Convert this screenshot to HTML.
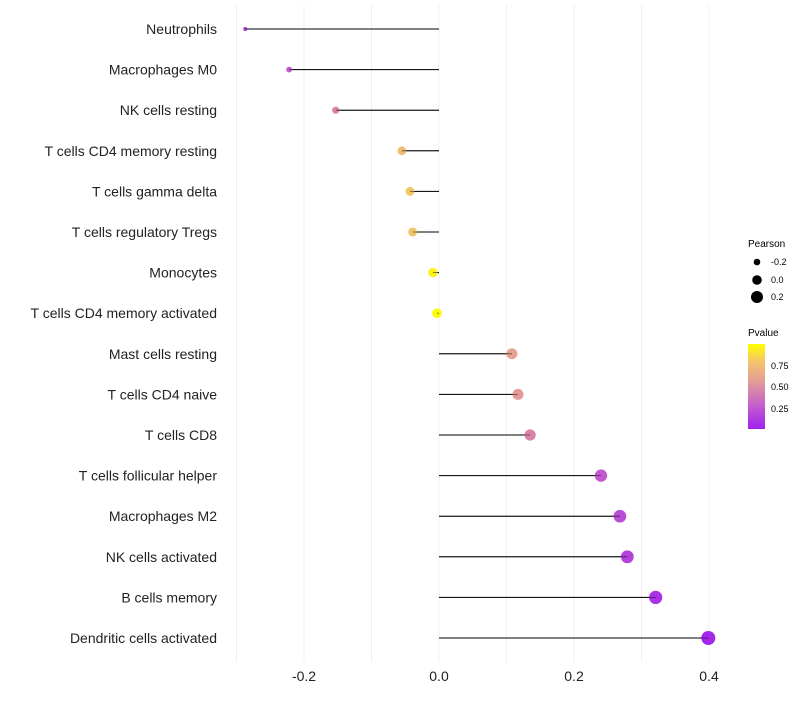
<!DOCTYPE html>
<html><head><meta charset="utf-8"><style>
body{margin:0;background:#fff;font-family:"Liberation Sans",sans-serif}
</style></head><body>
<svg id="chart" width="800" height="700" xmlns="http://www.w3.org/2000/svg">
<defs><linearGradient id="pg" x1="0" y1="1" x2="0" y2="0">
<stop offset="0" stop-color="#A020F0"/><stop offset="0.3" stop-color="#C764C8"/><stop offset="0.55" stop-color="#E39A98"/><stop offset="0.8" stop-color="#F4C66A"/><stop offset="1" stop-color="#FFFF00"/></linearGradient></defs>
<g id="grid"></g><g id="marks"></g><g id="labels"></g>
<g font-size="9">
<text x="748" y="247" font-size="10">Pearson</text>
<circle cx="757" cy="262" r="3.3"/><text x="771" y="265">-0.2</text>
<circle cx="757" cy="280" r="4.8"/><text x="771" y="283">0.0</text>
<circle cx="757" cy="297" r="6"/><text x="771" y="300">0.2</text>
</g>
<g font-size="9">
<text x="748" y="336" font-size="10">Pvalue</text>
<rect x="748" y="344" width="17" height="85" fill="url(#pg)"/>
<text x="771" y="369">0.75</text><text x="771" y="390">0.50</text><text x="771" y="412">0.25</text>
</g>
</svg>
<script>
const cells=["Neutrophils","Macrophages M0","NK cells resting","T cells CD4 memory resting","T cells gamma delta","T cells regulatory  Tregs ","Monocytes","T cells CD4 memory activated","Mast cells resting","T cells CD4 naive","T cells CD8","T cells follicular helper","Macrophages M2","NK cells activated","B cells memory","Dendritic cells activated"];
const pearson=[-0.287,-0.222,-0.153,-0.055,-0.043,-0.039,-0.009,-0.003,0.108,0.117,0.135,0.24,0.268,0.279,0.321,0.399];
const pvalue=[0.1,0.25,0.45,0.75,0.8,0.8,0.95,0.99,0.6,0.55,0.45,0.25,0.2,0.15,0.08,0.03];
const xticks=[-0.2,0.0,0.2,0.4];
const xtickLabels=["-0.2","0.0","0.2","0.4"];
const NS="http://www.w3.org/2000/svg";
const X=v=>439+v*675, Y=i=>29+i*40.6;
function mk(t,a,p){const e=document.createElementNS(NS,t);for(const k in a)e.setAttribute(k,a[k]);p.appendChild(e);return e;}
const stops=[[0,[160,32,240]],[0.3,[199,100,200]],[0.55,[227,154,152]],[0.8,[244,198,106]],[1,[255,255,0]]];
function col(p){for(let i=1;i<stops.length;i++){if(p<=stops[i][0]){const a=stops[i-1],b=stops[i],t=(p-a[0])/(b[0]-a[0]);return "rgb("+a[1].map((c,j)=>Math.round(c+(b[1][j]-c)*t)).join(",")+")";}}return "rgb(255,255,0)";}
const g=document.getElementById('grid'),m=document.getElementById('marks'),L=document.getElementById('labels');
[-0.3,-0.2,-0.1,0,0.1,0.2,0.3,0.4].forEach(v=>{const l=mk('line',{x1:X(v),x2:X(v),y1:5,y2:662,stroke:'#f0f0f0','stroke-width':1},g);

});
xticks.forEach((v,i)=>{const t=mk('text',{x:X(v),y:681,'text-anchor':'middle','font-size':14,fill:'#222'},L);t.textContent=xtickLabels[i];

});
cells.forEach((c,i)=>{const y=Y(i);
const t=mk('text',{x:217,y:y+5,'text-anchor':'end','font-size':14,fill:'#222'},L);t.textContent=c;


const ln=mk('line',{x1:X(0),x2:X(pearson[i]),y1:y,y2:y,stroke:'#000','stroke-width':1},m);


const r=Math.sqrt(4+(pearson[i]+0.29)/0.69*45);
const ci=mk('circle',{cx:X(pearson[i]),cy:y,r:r,fill:col(pvalue[i])},m);


const l2=mk('line',{x1:X(0),x2:X(pearson[i]),y1:y,y2:y,stroke:'#000','stroke-width':0.8,'stroke-opacity':0.6},m);

});
</script>
</body></html>
